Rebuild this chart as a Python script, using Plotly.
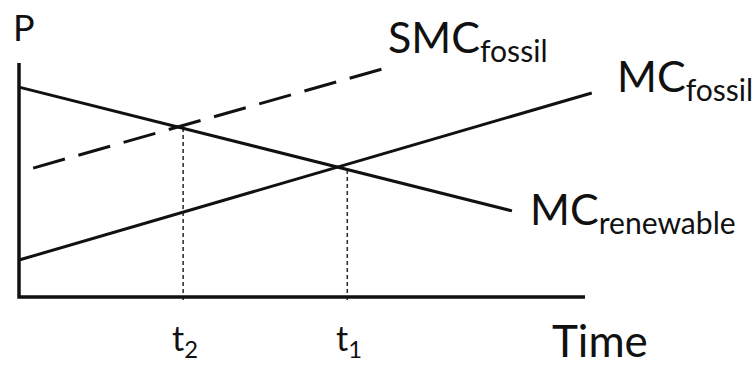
import plotly.graph_objects as go

# ---- data (conceptual units: time on x, price on y) ----
mc_renewable_x = [0.0, 8.71]
mc_renewable_y = [8.97, 3.68]
mc_fossil_x = [0.0, 10.12]
mc_fossil_y = [1.58, 8.72]
smc_fossil_x = [0.25, 6.41]
smc_fossil_y = [5.51, 9.74]
t_values = [2.90, 5.80]
t_heights = [7.26, 5.56]
t_labels = ["t<sub>2</sub>", "t<sub>1</sub>"]
x_axis_end = 10.0
y_axis_top = 10.0

W, H = 756, 365
FONT = "Lato, 'Noto Sans', sans-serif"
INK = "#111111"

fig = go.Figure()

# dotted guide lines
for t, h in zip(t_values, t_heights):
    fig.add_trace(go.Scatter(x=[t, t], y=[-0.13, h], mode="lines",
                             line=dict(color="#333333", width=1.6, dash="4px,3px"),
                             hoverinfo="skip"))

fig.add_trace(go.Scatter(x=smc_fossil_x, y=smc_fossil_y, mode="lines",
                         line=dict(color=INK, width=3, dash="33px,14px"), hoverinfo="skip"))
fig.add_trace(go.Scatter(x=mc_renewable_x, y=mc_renewable_y, mode="lines",
                         line=dict(color=INK, width=3), hoverinfo="skip"))
fig.add_trace(go.Scatter(x=mc_fossil_x, y=mc_fossil_y, mode="lines",
                         line=dict(color=INK, width=3), hoverinfo="skip"))
# axes
fig.add_trace(go.Scatter(x=[0, 0, x_axis_end], y=[y_axis_top, 0, 0], mode="lines",
                         line=dict(color=INK, width=3.5), hoverinfo="skip"))

def px(xp):
    return xp / W

def py(yp):
    return 1 - yp / H

ann = []
def label(text, x, y, size, xanchor="left", xref="paper", xshift=0):
    ann.append(dict(text=text, x=x, y=y, xref=xref, yref="paper", xanchor=xanchor,
                    yanchor="middle", showarrow=False, xshift=xshift,
                    font=dict(family=FONT, size=size, color=INK)))

label("P", px(11), py(27), 36)
label("SMC<sub>fossil</sub>", px(386), py(39), 43)
label("MC<sub>fossil</sub>", px(615), py(78), 43)
label("MC<sub>renewable</sub>", px(528), py(212), 43)
label("Time", px(550), py(340), 44)
for t, lab in zip(t_values, t_labels):
    label(lab, t, py(340), 34, xanchor="center", xref="x", xshift=2)

fig.update_layout(
    width=W, height=H, margin=dict(l=0, r=0, t=0, b=0),
    paper_bgcolor="white", plot_bgcolor="white", showlegend=False,
    xaxis=dict(range=[-19 / 56.6, (W - 19) / 56.6], visible=False),
    yaxis=dict(range=[-(H - 297) / 23.4, 297 / 23.4], visible=False),
    annotations=ann,
)

fig.write_html("out.html", config={"displayModeBar": False},
               post_script="document.body.style.margin='0';document.body.style.overflow='hidden';")
